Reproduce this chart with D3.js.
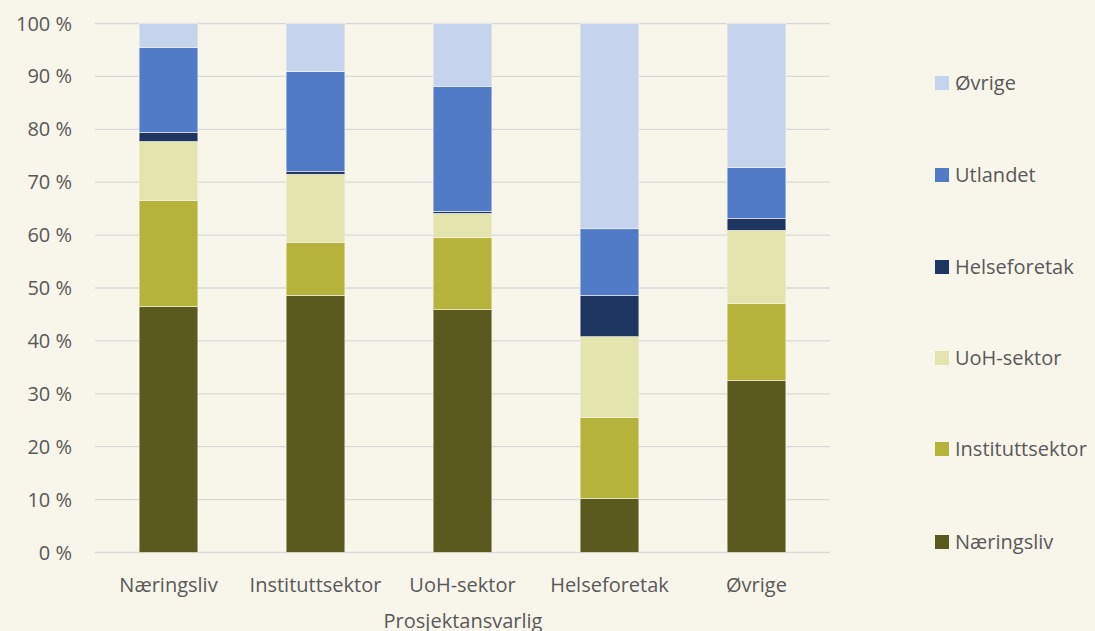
<!DOCTYPE html>
<html><head><meta charset="utf-8">
<script src="https://cdn.jsdelivr.net/npm/d3@7"></script>
<style>
html,body{margin:0;padding:0;background:#f8f6eb;}
text{font-family:"Open Sans","Noto Sans",sans-serif;fill:#595959;}
</style></head>
<body><svg id="c" width="1095" height="631"></svg>
<script>
const categories = ["Næringsliv","Instituttsektor","UoH-sektor","Helseforetak","Øvrige"];
const seriesNames = ["Næringsliv","Instituttsektor","UoH-sektor","Helseforetak","Utlandet","Øvrige"];
const naeringsliv     = [46.5, 48.6, 45.9, 10.2, 32.5];
const instituttsektor = [20.0, 10.0, 13.6, 15.3, 14.6];
const uohSektor       = [11.2, 12.9, 4.6, 15.3, 13.8];
const helseforetak    = [1.7, 0.5, 0.4, 7.8, 2.2];
const utlandet        = [16.1, 18.9, 23.6, 12.6, 9.7];
const ovrige          = [4.5, 9.1, 11.9, 38.8, 27.2];
const yTicks = [0,10,20,30,40,50,60,70,80,90,100];
const colors = ["#5b5a1e","#b5b33c","#e3e4ae","#1f3661","#527bc7","#c5d3ec"];

const seriesValues = [naeringsliv, instituttsektor, uohSektor, helseforetak, utlandet, ovrige];
const rows = categories.map((c,i)=>{ const r={cat:c}; seriesNames.forEach((s,j)=>r[s]=seriesValues[j][i]); return r; });
const stack = d3.stack().keys(seriesNames)(rows);

const svg = d3.select("#c");
const x = d3.scaleBand().domain(categories).range([95,830]).paddingInner(0.6).paddingOuter(0.3);
const y = d3.scaleLinear().domain([0,100]).range([552.5,23.5]);
const fs = 20;

svg.append("g").selectAll("line").data(yTicks).join("line")
  .attr("x1",95).attr("x2",830).attr("y1",d=>y(d)).attr("y2",d=>y(d))
  .attr("stroke","#d9d9d9").attr("stroke-width",1.3);

svg.append("g").selectAll("text").data(yTicks).join("text")
  .attr("x",72).attr("y",d=>y(d)).attr("dy","0.35em").attr("text-anchor","end")
  .attr("font-size",fs).text(d=>d+" %");

svg.append("g").selectAll("g").data(stack).join("g")
  .attr("fill",(d,i)=>colors[i])
  .selectAll("rect").data(d=>d).join("rect")
  .attr("x",d=>x(d.data.cat)).attr("width",x.bandwidth())
  .attr("y",d=>y(d[1])).attr("height",d=>y(d[0])-y(d[1]))
  .attr("stroke","#f8f6eb").attr("stroke-width",0.6);

svg.append("g").selectAll("text").data(categories).join("text")
  .attr("x",d=>x(d)+x.bandwidth()/2).attr("y",585).attr("dy","0.35em")
  .attr("text-anchor","middle").attr("font-size",fs).text(d=>d);

svg.append("text").attr("x",463).attr("y",621).attr("dy","0.35em")
  .attr("text-anchor","middle").attr("font-size",fs).text("Prosjektansvarlig");

const legendY = [542,449,358,267,175,83];
const lg = svg.append("g").selectAll("g").data(seriesNames).join("g")
  .attr("transform",(d,i)=>`translate(935,${legendY[i]})`);
lg.append("rect").attr("x",0).attr("y",-7).attr("width",14).attr("height",14).attr("fill",(d,i)=>colors[i]);
lg.append("text").attr("x",20).attr("y",0).attr("dy","0.35em").attr("font-size",fs).text(d=>d);
</script></body></html>
